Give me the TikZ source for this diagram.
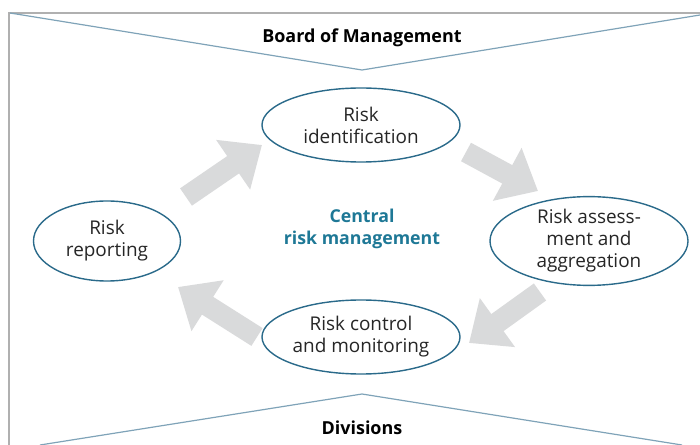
\documentclass[tikz,border=0pt]{standalone}
\usepackage{fontspec}
\setmainfont{Open Sans}
\usetikzlibrary{arrows.meta,shapes.geometric}
\definecolor{ellc}{HTML}{2A6A8A}
\definecolor{vline}{HTML}{7FA3B8}
\definecolor{frame}{HTML}{B0B0B0}
\definecolor{teal}{HTML}{1E7896}
\definecolor{blk}{HTML}{D9DADB}
\begin{document}
\begin{tikzpicture}[x=1bp,y=-1bp,
  stage/.style={draw=ellc,line width=1.4bp,ellipse,inner sep=0pt,align=center,
     font=\fontsize{19}{22}\selectfont,text=black!85},
  blockarr/.style={line width=21bp,draw=blk,-{Triangle[length=35bp,width=58bp]}},
  vstyle/.style={draw=vline,line width=1.2bp},
  hdr/.style={font=\fontsize{18}{20}\bfseries\selectfont,text=black}]
\useasboundingbox (0,0) rectangle (700,445);
% frame
\draw[frame,line width=2bp] (9,445) -- (9,13) -- (700,13);
% V lines
\coordinate (tl) at (10,13);
\coordinate (tapex) at (362,70);
\coordinate (tr) at (700,15);
\draw[vstyle] (tl) -- (tapex) -- (tr);
\coordinate (bl) at (40,445);
\coordinate (bapex) at (362,394);
\coordinate (br) at (682,445);
\draw[vstyle] (bl) -- (bapex) -- (br);
\node[hdr] (board) at (362,38) {Board of Management};
\node[hdr] (div) at (362,428) {Divisions};
% block arrows
\coordinate (a1s) at (186,197);
\coordinate (a1e) at (262,145);
\coordinate (a2s) at (466,152);
\coordinate (a2e) at (538,191);
\coordinate (a3s) at (540,292);
\coordinate (a3e) at (469,343);
\coordinate (a4s) at (257,337);
\coordinate (a4e) at (178,287);
\draw[blockarr] (a1s) -- (a1e);
\draw[blockarr] (a2s) -- (a2e);
\draw[blockarr] (a3s) -- (a3e);
\draw[blockarr] (a4s) -- (a4e);
% stages
\node[stage,fill=white,minimum width=198bp,minimum height=74bp] (ident) at (361,125) {Risk\\identification};
\node[stage,fill=white,minimum width=147bp,minimum height=80bp] (report) at (107,241) {Risk\\reporting};
\node[stage,fill=white,minimum width=198bp,minimum height=78bp] (assess) at (589,241) {Risk assess-\\ment and\\aggregation};
\node[stage,fill=white,minimum width=198bp,minimum height=74bp] (control) at (361,337) {Risk control\\and monitoring};
\node[font=\fontsize{17.8}{22}\bfseries\selectfont,text=teal,align=center] (central) at (362,229) {Central\\risk management};
\end{tikzpicture}
\end{document}
